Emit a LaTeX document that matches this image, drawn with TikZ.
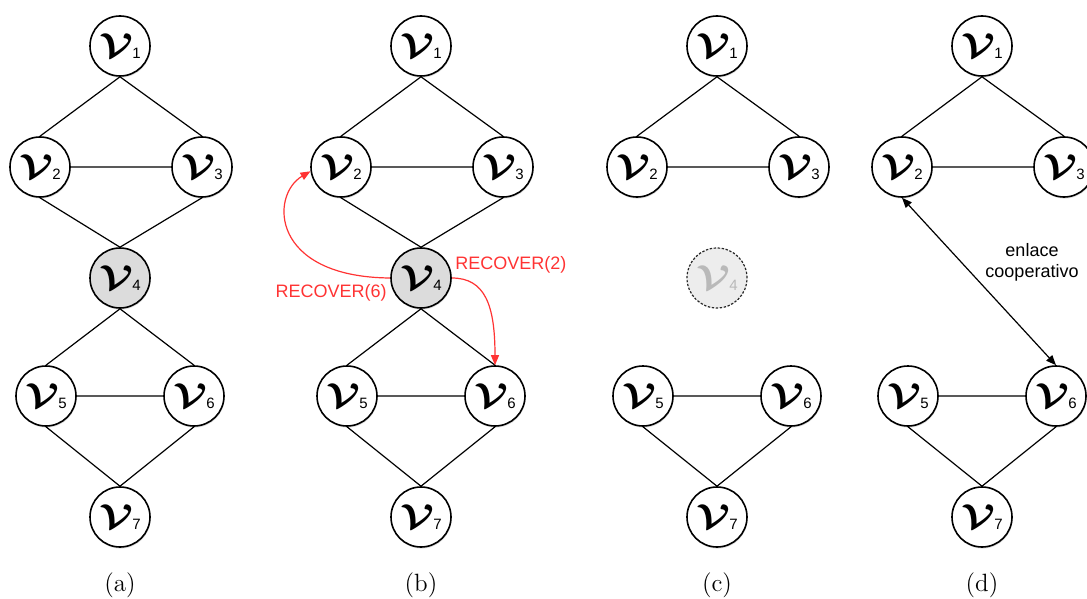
\documentclass[tikz,border=0pt]{standalone}
\usepackage{fontspec}
\setsansfont{Liberation Sans}
\usetikzlibrary{arrows.meta, shadows}

\definecolor{recoverred}{RGB}{255,51,51}
\definecolor{failgray}{RGB}{220,220,220}
\definecolor{ghostgray}{RGB}{185,185,185}

\newcommand{\vlab}[1]{\scalebox{1.2}[1]{\fontsize{16}{16}\selectfont\boldmath$\mathcal{V}$}\kern-0.6pt\raisebox{-0.6pt}{\fontsize{7.5}{7.5}\selectfont\sffamily #1}}

\begin{document}
\begin{tikzpicture}[x=0.5pt, y=-0.5pt,
		vertex/.style={circle, draw, line width=0.8pt, fill=white, minimum size=30pt, inner sep=0pt,
			drop shadow={opacity=0.25, shadow xshift=0.3pt, shadow yshift=-0.8pt}},
		failed/.style={vertex, fill=failgray},
		ghost/.style={circle, draw=black!85, dash pattern=on 1.2pt off 0.8pt, line width=0.6pt,
			fill=black!7, text=ghostgray, minimum size=30pt, inner sep=0pt},
		link/.style={line width=0.6pt},
		recover/.style={recoverred, line width=0.6pt, -{Triangle[length=5pt, width=4pt]}},
		coop/.style={line width=0.6pt, {Triangle[length=5pt, width=4pt]}-{Triangle[length=5pt, width=4pt]}},
		msg/.style={font=\fontsize{9}{10.5}\selectfont\sffamily, inner sep=1pt},
		caption/.style={font=\fontsize{12.5}{14}\selectfont}]

	\useasboundingbox (0,0) rectangle (1087,599);

	\foreach \p/\dx in {a/0, b/301, c/597, d/862}
	{
		\begin{scope}[shift={(\dx,0)}]
			\node [vertex] (\p1) at (120,46) {\vlab{1}};
			\node [vertex] (\p2) at (40,167) {\vlab{2}};
			\node [vertex] (\p3) at (202,167) {\vlab{3}};
			\node [vertex] (\p5) at (46,396) {\vlab{5}};
			\node [vertex] (\p6) at (194,396) {\vlab{6}};
			\node [vertex] (\p7) at (120,517) {\vlab{7}};
			\node [caption] (cap\p) at (120,585) {(\p)};
		\end{scope}
	}

	\node [failed] (a4) at (120,278) {\vlab{4}};
	\node [failed] (b4) at (421,278) {\vlab{4}};
	\node [ghost] (c4) at (717,278) {\vlab{4}};

	\foreach \p in {a,b,c,d}
	{
		\draw [link] (\p1.south) -- (\p2.north) (\p1.south) -- (\p3.north) (\p2.east) -- (\p3.west);
		\draw [link] (\p5.east) -- (\p6.west) (\p5.south) -- (\p7.north) (\p6.south) -- (\p7.north);
	}

	\foreach \p in {a,b}
	{
		\draw [link] (\p2.south) -- (\p4.north) (\p3.south) -- (\p4.north);
		\draw [link] (\p4.south) -- (\p5.north) (\p4.south) -- (\p6.north);
	}

	% recovery messages
	\draw [recover] (b4.west) .. controls (270,277) and (270,195) .. (b2.188);
	\draw [recover] (b4.east) .. controls (485,278) and (495,305) .. (b6.north);
	\node [msg, recoverred, anchor=east] (rec6) at (389,293) {RECOVER(6)};
	\node [msg, recoverred, anchor=west] (rec2) at (453,265) {RECOVER(2)};

	% cooperative link
	\draw [coop] (d2.south) -- (d6.north);
	\node [msg, align=center] (coop) at (1032,262) {enlace\\cooperativo};
\end{tikzpicture}
\end{document}
